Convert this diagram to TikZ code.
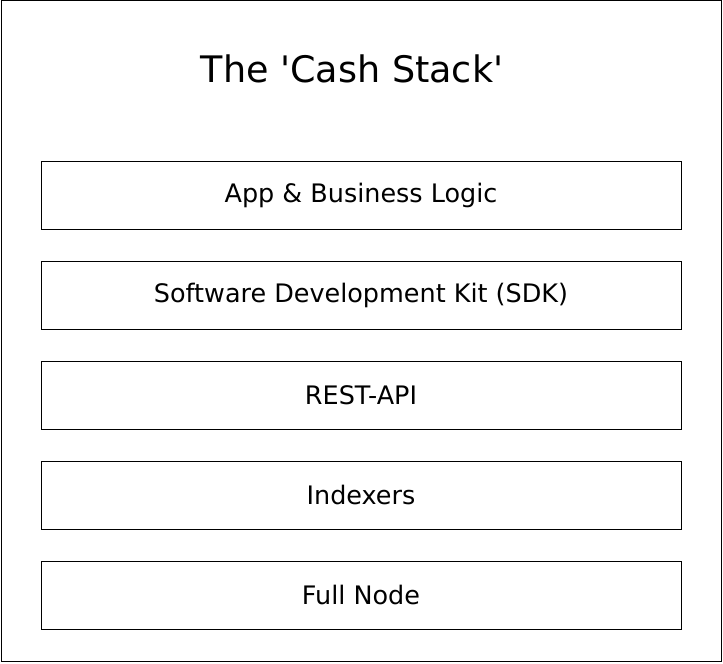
\documentclass[tikz,border=0pt]{standalone}
\usepackage{fontspec}
\setmainfont{DejaVu Sans}
\usetikzlibrary{positioning}

\begin{document}
\begin{tikzpicture}[
    x=0.75pt, y=-0.75pt,
    layer/.style={draw, line width=0.75pt, minimum width=480pt, minimum height=51pt,
        inner sep=0pt, font=\fontsize{19.1}{22}\selectfont},
    frame/.style={draw, line width=0.75pt}
]
\useasboundingbox (0,0) rectangle (723,663);

% Outer frame and title
\draw[frame] (1,1) rectangle (721,661);
\node (title) at (352,69) {\fontsize{27.4}{32}\selectfont The \textquotesingle Cash Stack\textquotesingle};

% Layers of the stack
\node[layer] (app) at (361,195) {App \& Business Logic};
\node[layer] (sdk) at (361,295) {Software Development Kit (SDK)};
\node[layer] (rest) at (361,395) {REST-API};
\node[layer] (idx) at (361,495) {Indexers};
\node[layer] (full) at (361,595) {Full Node};

\end{tikzpicture}
\end{document}
